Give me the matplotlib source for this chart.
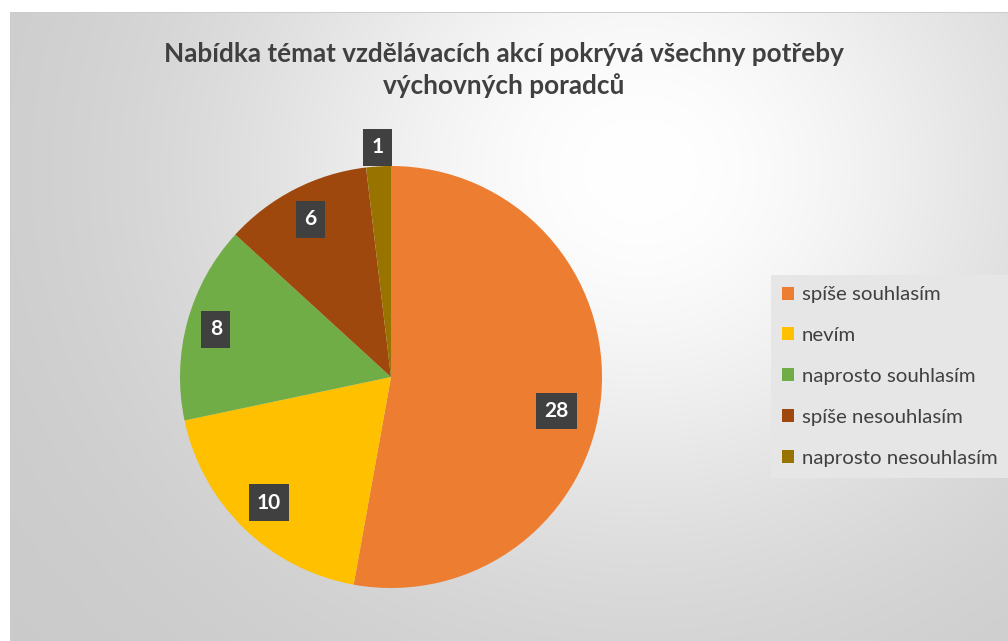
import numpy as np
import matplotlib
matplotlib.use("Agg")
import matplotlib.pyplot as plt
from matplotlib.patches import Patch

# data
categories = ["spíše souhlasím", "nevím", "naprosto souhlasím",
              "spíše nesouhlasím", "naprosto nesouhlasím"]
values = [28, 10, 8, 6, 1]
colors = ["#ED7D31", "#FFC000", "#70AD47", "#9E480E", "#997300"]
title = "Nabídka témat vzdělávacích akcí pokrývá všechny potřeby\nvýchovných poradců"

plt.rcParams['font.family'] = ['Lato', 'DejaVu Sans']

W, H = 1008, 641
fig = plt.figure(figsize=(W / 100, H / 100), dpi=100)

# background: white margin + soft radial gray gradient
bg = fig.add_axes([0, 0, 1, 1])
yy, xx = np.mgrid[0:H, 0:W]
d = np.hypot(xx - 640, (yy - 170) * 1.1) / 700.0
g = 0.79 + 0.21 * np.exp(-(d / 0.6) ** 2)
img = np.dstack([g, g, g])
img[:12, :, :] = 1.0
img[:, :10, :] = 1.0
img[12, 10:, :] = 0.80
img[12:, 10, :] = 0.80
bg.imshow(img, extent=[0, W, H, 0], aspect='auto', interpolation='bilinear')
bg.set_xlim(0, W)
bg.set_ylim(H, 0)
bg.axis('off')

# pie
cx, cy, r = 391, 377, 211
ax = fig.add_axes([(cx - r) / W, (H - cy - r) / H, 2 * r / W, 2 * r / H])
wedges, _ = ax.pie(values, colors=colors, startangle=90, counterclock=False,
                   radius=1, wedgeprops=dict(linewidth=0))
ax.set_xlim(-1, 1)
ax.set_ylim(-1, 1)
ax.axis('off')

# data labels
dists = [0.80, 0.83, 0.86, 0.84, 1.09]
nudge = [-6.5, 0, 0, 0, 0]
for w, v, dd, nd in zip(wedges, values, dists, nudge):
    ang = np.deg2rad((w.theta1 + w.theta2) / 2 + nd)
    ax.text(dd * np.cos(ang), dd * np.sin(ang), str(v), ha='center', va='center',
            color='white', fontsize=15, fontweight='bold', clip_on=False,
            bbox=dict(boxstyle='square,pad=0.4', facecolor='#404040',
                      edgecolor='none'))

# title
fig.text(504 / W, 1 - 70 / H, title, ha='center', va='center',
         fontsize=18.8, fontweight='bold', color='#404040', linespacing=1.38)

# legend
handles = [Patch(facecolor=c, edgecolor='none') for c in colors]
leg = fig.legend(handles, categories, loc='upper left',
                 bbox_to_anchor=(771 / W, 1 - 275 / H), frameon=True,
                 fontsize=14.7, handlelength=0.6, handleheight=0.6,
                 handletextpad=0.35, labelspacing=1.17, borderpad=0.55,
                 fancybox=False, borderaxespad=0)
leg.get_frame().set_facecolor('#e6e6e6')
leg.get_frame().set_edgecolor('none')
leg.get_frame().set_alpha(1)
for t in leg.get_texts():
    t.set_color('#404040')

fig.savefig("out.png", dpi=100)
